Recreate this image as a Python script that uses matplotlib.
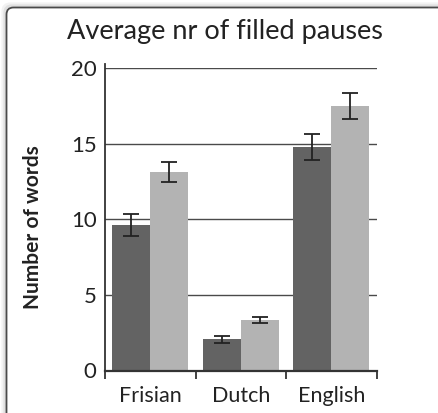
import matplotlib
matplotlib.use("Agg")
import matplotlib.pyplot as plt
from matplotlib.patches import FancyBboxPatch
import numpy as np

categories = ["Frisian", "Dutch", "English"]
dark_vals = [9.6, 2.05, 14.8]
dark_err = [0.74, 0.2, 0.86]
light_vals = [13.1, 3.35, 17.5]
light_err = [0.66, 0.2, 0.87]
y_ticks = [0, 5, 10, 15, 20]

plt.rcParams['font.family'] = ['Lato', 'DejaVu Sans']

fig = plt.figure(figsize=(4.38, 4.13), dpi=100)

# panel frame (cropped box with rounded top-left corner)
for off, col, lw in [(2.5, '#f2f2f2', 3), (1.2, '#e0e0e0', 2)]:
    sh = FancyBboxPatch((6 - off, -20), 500, 413 + 20 - 7 + off, boxstyle="round,pad=0,rounding_size=7",
                        transform=None, facecolor='none', edgecolor=col, linewidth=lw, zorder=0)
    fig.patches.append(sh)
frame = FancyBboxPatch((6.5, -20), 500, 413 + 20 - 7.5, boxstyle="round,pad=0,rounding_size=7",
                       transform=None, facecolor='none', edgecolor='#4a4a4a', linewidth=1.3, zorder=1)
fig.patches.append(frame)

ax = fig.add_axes([105 / 438, 1 - 370.5 / 413, (376.7 - 105) / 438, (370.5 - 68) / 413])
x = np.arange(len(categories))
w = 0.42
ax.bar(x - w / 2, dark_vals, w, color='#636363', zorder=2)
ax.bar(x + w / 2, light_vals, w, color='#b3b3b3', zorder=2)
ax.errorbar(x - w / 2, dark_vals, yerr=dark_err, fmt='none', ecolor='#222222',
            elinewidth=1.3, capsize=5.5, capthick=1.3, zorder=3)
ax.errorbar(x + w / 2, light_vals, yerr=light_err, fmt='none', ecolor='#222222',
            elinewidth=1.3, capsize=5.5, capthick=1.3, zorder=3)

ax.set_xlim(-0.5, 2.5)
ax.set_ylim(0, 20)
ax.set_yticks(y_ticks)
ax.set_yticklabels([str(t) for t in y_ticks], fontsize=16, color='#222222')
ax.tick_params(axis='y', length=0, pad=6)
for t in y_ticks[1:]:
    ax.axhline(t, color='#4a4a4a', lw=1.0, zorder=1)

ax.set_xticks([-0.5, 0.5, 1.5, 2.5])
ax.set_xticklabels([])
ax.set_xticks(x, minor=True)
ax.set_xticklabels(categories, minor=True, fontsize=15.5, color='#222222')
ax.tick_params(axis='x', which='major', length=6, width=1.3, color='#333333', direction='out')
ax.tick_params(axis='x', which='minor', length=0, pad=11)

for s in ['top', 'right']:
    ax.spines[s].set_visible(False)
ax.spines['left'].set_color('#333333')
ax.spines['left'].set_linewidth(1.3)
ax.spines['left'].set_bounds(0, 20.25)
ax.spines['bottom'].set_color('#333333')
ax.spines['bottom'].set_linewidth(1.6)

ax.set_ylabel("Number of words", fontsize=15, fontweight='bold', color='#222222')
ax.yaxis.set_label_coords(-62 / 271.7, 0.473)

fig.text(225 / 438, 1 - 39 / 413, "Average nr of filled pauses", fontsize=19.5, color='#222222',
         ha='center', va='baseline')

fig.savefig("out.png", dpi=100)
